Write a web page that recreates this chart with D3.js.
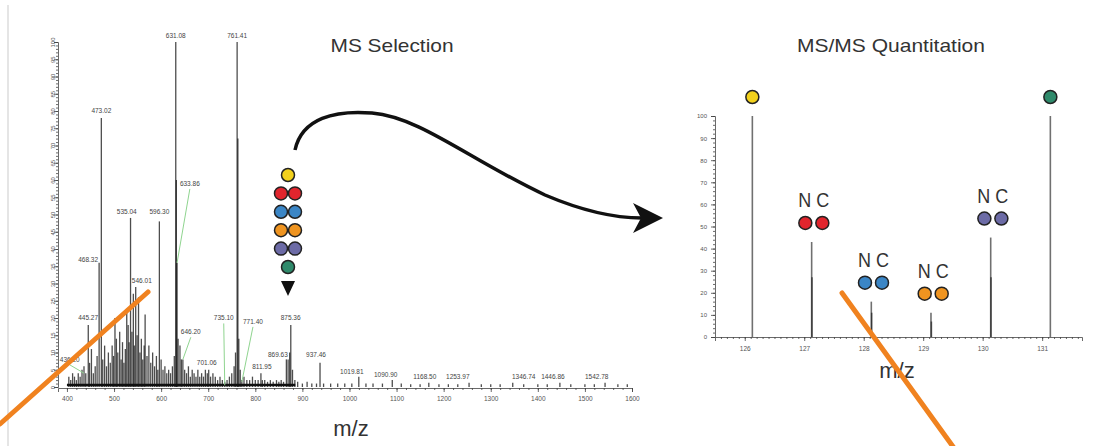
<!DOCTYPE html>
<html>
<head>
<meta charset="utf-8">
<script src="https://cdn.jsdelivr.net/npm/d3@7"></script>
<style>
  html, body { margin: 0; padding: 0; background: #fff; }
  svg { display: block; }
  .tick text { font-family: "Liberation Sans", Arial, sans-serif; fill: #555; }
</style>
</head>
<body>
<div id="chart"></div>
<script>
// MS survey spectrum: [m/z, relative intensity]
const msPeaks = [
  [404, 3], [408, 2], [412, 4], [416, 3], [420, 2], [424, 4], [428, 3], [432, 5], [436.2, 6], [440, 4],
  [445.27, 18], [448, 7], [452, 11], [456, 4], [460, 6], [464, 9], [468.32, 36], [473.02, 78], [476, 8], [480, 12],
  [484, 6], [488, 10], [492, 7], [496, 12], [499, 9], [502, 20], [505, 14], [508, 10], [512, 16], [515, 8],
  [518, 13], [521, 7], [524, 11], [527, 22], [530, 18], [532, 13], [535.04, 49], [538, 16], [541, 27], [543, 12],
  [546.01, 29], [549, 15], [552, 26], [555, 10], [558, 14], [561, 8], [564, 12], [566, 21], [570, 9], [574, 12],
  [578, 7], [582, 10], [586, 6], [590, 9], [593, 5], [596.3, 48], [600, 8], [604, 5], [608, 6], [612, 4],
  [616, 5], [620, 4], [624, 6], [628, 9], [631.08, 100], [632.4, 60], [633.86, 36], [636, 14], [640, 12], [643, 8],
  [646.2, 8], [650, 5], [654, 4], [658, 6], [662, 3], [666, 5], [670, 4], [674, 3], [678, 5], [682, 3],
  [686, 4], [690, 3], [694, 5], [698, 4], [701.06, 5], [705, 3], [710, 4], [715, 3], [720, 2], [725, 3],
  [730, 2], [735.1, 1.5], [740, 2], [745, 3], [750, 4], [755, 6], [758, 10], [761.41, 100], [763, 72], [765, 14],
  [768, 5], [771.4, 2], [776, 3], [782, 2], [788, 2], [794, 3], [800, 2], [806, 2], [811.95, 4], [815, 2],
  [820, 2], [826, 1.5], [832, 2], [838, 1.5], [845, 2], [850, 1.5], [855, 2], [860, 1.5], [866, 8], [869.63, 8],
  [873, 10], [875.36, 18], [879, 5], [884, 2], [890, 1.5], [900, 1], [910, 1.5], [920, 1], [930, 1], [937.46, 7],
  [945, 1], [960, 1], [975, 1], [990, 1], [1005, 1], [1019.81, 3], [1035, 1], [1050, 1], [1070, 1], [1090.9, 2],
  [1110, 1], [1130, 0.8], [1150, 0.8], [1168.5, 1.2], [1190, 0.8], [1210, 0.8], [1230, 0.8], [1253.97, 1.2], [1280, 0.8], [1300, 0.8],
  [1320, 0.8], [1346.74, 1.2], [1370, 0.8], [1400, 0.8], [1420, 0.8], [1446.86, 1.2], [1470, 0.8], [1500, 0.8], [1520, 0.8], [1542.78, 1.2],
  [1570, 0.8], [1590, 0.8]
];

// peak labels: [text, label m/z, label level, leader target m/z, leader target level]
const msLabels = [
  ["631.08", 631.08, 101], ["761.41", 761.41, 101], ["473.02", 473.02, 79],
  ["633.86", 661, 58, 633.86, 36], ["535.04", 527, 50], ["596.30", 596.3, 50],
  ["468.32", 445, 36], ["546.01", 559, 30], ["445.27", 445, 19],
  ["436.20", 406, 7, 436.2, 4], ["646.20", 663, 15, 646.2, 8],
  ["735.10", 733, 19, 735.1, 0.5], ["771.40", 795, 18, 771.4, 1.5],
  ["701.06", 697, 6], ["811.95", 814, 5], ["869.63", 848, 8.5], ["875.36", 875, 19],
  ["937.46", 929, 8.5], ["1019.81", 1005, 3.5], ["1090.90", 1077, 2.6],
  ["1168.50", 1160, 2], ["1253.97", 1230, 2], ["1346.74", 1370, 2],
  ["1446.86", 1432, 2], ["1542.78", 1525, 2]
];

// TMT reporter ions
const reporters = ["126", "127", "128", "129", "130", "131"];
const reporterColors = ["#f2d11c", "#e1252d", "#3b86c6", "#ef9420", "#6c6ba6", "#2f8a6b"];
const reporterPaired = [false, true, true, true, true, false];
// MS/MS reporter peaks: [m/z, intensity, reporter index]
const msmsPeaks = [
  [126.128, 100, 0],
  [127.125, 43, 1], [127.131, 27, 1],
  [128.128, 16, 2], [128.134, 11, 2],
  [129.131, 11, 3], [129.138, 7, 3],
  [130.135, 45, 4], [130.141, 27, 4],
  [131.138, 100, 5]
];

const W = 1099, H = 446;
const font = '"Liberation Sans", Arial, sans-serif';

const svg = d3.select("#chart").append("svg")
  .attr("width", W).attr("height", H)
  .attr("viewBox", `0 0 ${W} ${H}`);

// faint frame line at left edge
svg.append("line")
  .attr("x1", 8).attr("x2", 8).attr("y1", 5).attr("y2", H)
  .attr("stroke", "#ddd").attr("stroke-width", 1.5);

// ---------- left: MS spectrum ----------
const xL = d3.scaleLinear().domain([381, 1600]).range([58, 632]);
const yL = d3.scaleLinear().domain([0, 100]).range([387, 42]);

const gL = svg.append("g");

const xAxisL = gL.append("g")
  .attr("transform", `translate(0,${yL(0) + 1})`)
  .call(d3.axisBottom(xL).tickValues(d3.range(400, 1601, 100)).tickSize(4).tickPadding(4).tickFormat(d3.format("d")));
gL.append("g")
  .attr("transform", `translate(0,${yL(0) + 1})`)
  .call(d3.axisBottom(xL).tickValues(d3.range(400, 1601, 20)).tickSize(2).tickFormat(""))
  .select(".domain").remove();
xAxisL.selectAll("text").attr("font-size", 6.5);

const yAxisL = gL.append("g")
  .attr("transform", `translate(${xL(381)},0)`)
  .call(d3.axisLeft(yL).tickValues(d3.range(0, 101, 5)).tickSize(4).tickPadding(3));
gL.append("g")
  .attr("transform", `translate(${xL(381)},0)`)
  .call(d3.axisLeft(yL).tickValues(d3.range(0, 101, 1)).tickSize(2).tickFormat(""))
  .select(".domain").remove();
yAxisL.selectAll("text")
  .attr("font-size", 6)
  .attr("text-anchor", "middle")
  .attr("transform", "translate(-5,0) rotate(-90)")
  .attr("x", 0).attr("dy", "0.32em");

gL.selectAll(".domain, .tick line").attr("stroke", "#444").attr("stroke-width", 0.8);

// baseline grass
gL.append("line")
  .attr("x1", xL(400)).attr("x2", xL(885))
  .attr("y1", yL(0.6)).attr("y2", yL(0.6))
  .attr("stroke", "#111").attr("stroke-width", 2.5);

gL.selectAll(".ms-peak")
  .data(msPeaks)
  .join("line")
  .attr("class", "ms-peak")
  .attr("x1", d => xL(d[0])).attr("x2", d => xL(d[0]))
  .attr("y1", yL(0)).attr("y2", d => yL(d[1]))
  .attr("stroke", "#111").attr("stroke-opacity", 0.75)
  .attr("stroke-width", 1.3);

gL.selectAll(".ms-leader")
  .data(msLabels.filter(d => d.length > 3))
  .join("line")
  .attr("class", "ms-leader")
  .attr("x1", d => xL(d[1])).attr("y1", d => yL(d[2]) + 2)
  .attr("x2", d => xL(d[3])).attr("y2", d => yL(d[4]))
  .attr("stroke", "#8fd48f").attr("stroke-width", 1);

gL.selectAll(".ms-label")
  .data(msLabels)
  .join("text")
  .attr("class", "ms-label")
  .attr("x", d => xL(d[1])).attr("y", d => yL(d[2]) - 1)
  .attr("text-anchor", "middle")
  .attr("font-family", font).attr("font-size", 6.5)
  .attr("fill", "#444")
  .text(d => d[0]);

gL.append("text")
  .attr("x", 351).attr("y", 436)
  .attr("text-anchor", "middle")
  .attr("font-family", font).attr("font-size", 22)
  .attr("fill", "#333")
  .text("m/z");

svg.append("text")
  .attr("x", 392).attr("y", 52)
  .attr("text-anchor", "middle")
  .attr("font-family", font).attr("font-size", 19)
  .attr("textLength", 123).attr("lengthAdjust", "spacingAndGlyphs")
  .attr("fill", "#333")
  .text("MS Selection");

// ---------- middle: isobaric tag stack + arrow ----------
const stack = svg.append("g").attr("transform", "translate(288,0)");
reporters.forEach((r, i) => {
  const cy = 175 + i * 18.4;
  const xs = reporterPaired[i] ? [-7, 7] : [0];
  xs.forEach(dx => {
    stack.append("circle")
      .attr("cx", dx).attr("cy", cy).attr("r", 6.5)
      .attr("fill", reporterColors[i])
      .attr("stroke", "#222").attr("stroke-width", 1.5);
  });
});
stack.append("path")
  .attr("d", "M-7,281 L7,281 L0,296 Z")
  .attr("fill", "#111");

svg.append("path")
  .attr("d", "M295,150 C302,118 335,110 372,113 C420,117 470,160 545,195 C585,212 615,218 642,218")
  .attr("fill", "none").attr("stroke", "#111").attr("stroke-width", 3.5);
svg.append("path")
  .attr("d", "M663,218 L633,203 L641,218 L633,233 Z")
  .attr("fill", "#111");

// ---------- right: MS/MS reporter region ----------
const xR = d3.scaleLinear().domain([125.5, 131.67]).range([715, 1082]);
const yR = d3.scaleLinear().domain([0, 100]).range([337, 116]);

const gR = svg.append("g");
const xAxisR = gR.append("g")
  .attr("transform", `translate(0,${yR(0)})`)
  .call(d3.axisBottom(xR).tickValues(d3.range(126, 132, 1)).tickSize(4).tickPadding(5).tickFormat(d3.format("d")));
gR.append("g")
  .attr("transform", `translate(0,${yR(0)})`)
  .call(d3.axisBottom(xR).tickValues(d3.range(125.6, 131.65, 0.1)).tickSize(2).tickFormat(""))
  .select(".domain").remove();
xAxisR.selectAll("text").attr("font-size", 6.5);

const yAxisR = gR.append("g")
  .attr("transform", `translate(${xR(125.5)},0)`)
  .call(d3.axisLeft(yR).tickValues(d3.range(0, 101, 10)).tickSize(4).tickPadding(4));
gR.append("g")
  .attr("transform", `translate(${xR(125.5)},0)`)
  .call(d3.axisLeft(yR).tickValues(d3.range(0, 101, 2)).tickSize(2).tickFormat(""))
  .select(".domain").remove();
yAxisR.selectAll("text").attr("font-size", 6);
gR.selectAll(".domain, .tick line").attr("stroke", "#444").attr("stroke-width", 0.8);

gR.selectAll(".msms-peak")
  .data(msmsPeaks)
  .join("line")
  .attr("class", "msms-peak")
  .attr("x1", d => xR(d[0])).attr("x2", d => xR(d[0]))
  .attr("y1", yR(0)).attr("y2", d => yR(d[1]))
  .attr("stroke", "#111").attr("stroke-opacity", 0.6)
  .attr("stroke-width", 1.6);

// tag markers above each reporter peak
const tops = reporters.map((r, i) => {
  const ps = msmsPeaks.filter(p => p[2] === i);
  return { i, mz: d3.mean(ps, p => p[0]), top: d3.max(ps, p => p[1]) };
});
tops.forEach(t => {
  const cx = xR(t.mz) + (reporterPaired[t.i] ? 2 : 0);
  const cy = yR(t.top) - 19;
  const xs = reporterPaired[t.i] ? [-8.5, 8.5] : [0];
  xs.forEach(dx => {
    gR.append("circle")
      .attr("cx", cx + dx).attr("cy", cy).attr("r", 6.5)
      .attr("fill", reporterColors[t.i])
      .attr("stroke", "#222").attr("stroke-width", 1.5);
  });
  if (reporterPaired[t.i]) {
    gR.append("text")
      .attr("x", cx).attr("y", cy - 16)
      .attr("text-anchor", "middle")
      .attr("font-family", font).attr("font-size", 20)
      .attr("textLength", 31).attr("lengthAdjust", "spacingAndGlyphs")
      .attr("fill", "#333")
      .text("N C");
  }
});

gR.append("text")
  .attr("x", 897).attr("y", 378)
  .attr("text-anchor", "middle")
  .attr("font-family", font).attr("font-size", 22)
  .attr("fill", "#333")
  .text("m/z");

svg.append("text")
  .attr("x", 891).attr("y", 52)
  .attr("text-anchor", "middle")
  .attr("font-family", font).attr("font-size", 19)
  .attr("textLength", 188).attr("lengthAdjust", "spacingAndGlyphs")
  .attr("fill", "#333")
  .text("MS/MS Quantitation");

// orange annotation strokes
svg.append("line")
  .attr("x1", 0).attr("y1", 424).attr("x2", 148).attr("y2", 292)
  .attr("stroke", "#f0821f").attr("stroke-width", 5).attr("stroke-linecap", "round");
svg.append("line")
  .attr("x1", 842).attr("y1", 293).attr("x2", 954).attr("y2", 448)
  .attr("stroke", "#f0821f").attr("stroke-width", 5).attr("stroke-linecap", "round");
</script>
</body>
</html>
